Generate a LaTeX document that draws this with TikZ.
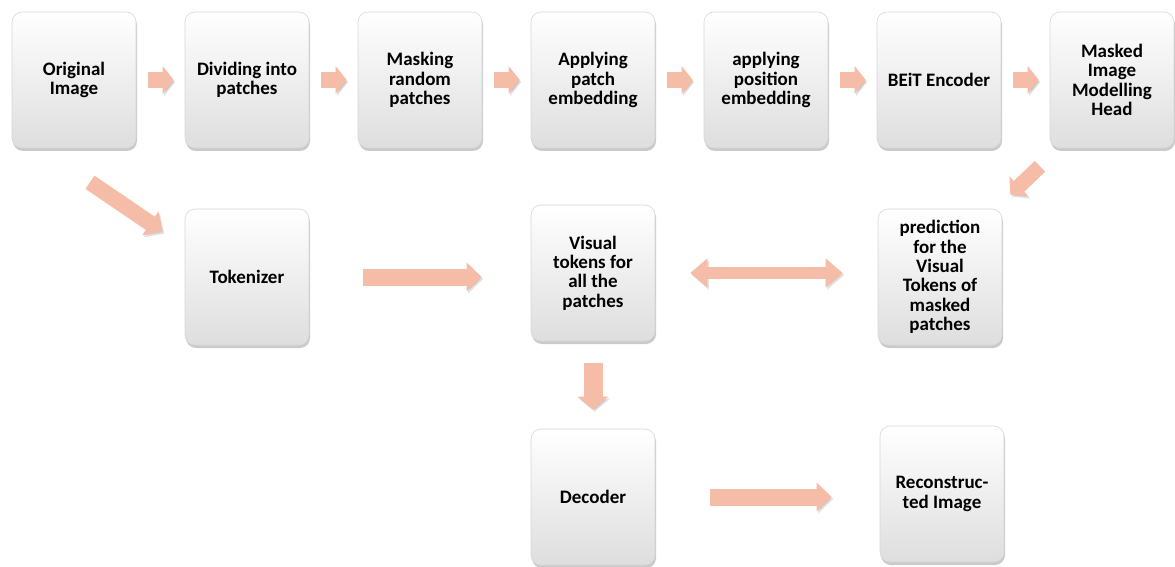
\documentclass[tikz,border=0pt]{standalone}
\usepackage{fontspec}
\setmainfont{Carlito}
\usetikzlibrary{arrows.meta,shadows,calc}
\definecolor{arrowc}{RGB}{245,188,168}
\definecolor{boxborder}{RGB}{215,215,215}
\tikzset{
  box/.style={rectangle, rounded corners=10pt, minimum width=124pt, minimum height=136pt,
    draw=boxborder, line width=0.6pt,
    top color=white, middle color=white, bottom color=black!13,
    drop shadow={shadow xshift=1pt, shadow yshift=-3pt, opacity=0.35, fill=black!60},
    align=center, inner sep=2pt,
    font=\fontsize{19}{19.3}\selectfont\bfseries},
  arrshadow/.style={preaction={draw=black, opacity=0.12, transform canvas={shift={(1.5pt,-2pt)}}}},
  smallarrow/.style={draw=arrowc, line width=16pt, arrshadow,
    -{Triangle[width=27pt,length=11pt]}},
  bigarrow/.style={draw=arrowc, line width=17pt, arrshadow,
    -{Triangle[width=28pt,length=15pt]}},
  dblarrow/.style={draw=arrowc, line width=12pt, arrshadow,
    {Triangle[width=28pt,length=17pt]}-{Triangle[width=28pt,length=17pt]}},
}
\begin{document}
\begin{tikzpicture}[x=1pt,y=-1pt]
\useasboundingbox (0,0) rectangle (1175,567);
% top row
\node[box] (orig)   at (74,80)   {Original\\Image};
\node[box] (divide) at (247,80)  {Dividing into\\patches};
\node[box] (mask)   at (420,80)  {Masking\\random\\patches};
\node[box] (patch)  at (593,80)  {Applying\\patch\\embedding};
\node[box] (pos)    at (766,80)  {applying\\position\\embedding};
\node[box] (beit)   at (939,80)  {BEiT Encoder};
\node[box] (head)   at (1112,80) {Masked\\Image\\Modelling\\Head};
% middle row
\node[box] (tok)  at (247,277) {Tokenizer};
\node[box] (vis)  at (593,273) {Visual\\tokens for\\all the\\patches};
\node[box] (pred) at (940,277) {prediction\\for the\\Visual\\Tokens of\\masked\\patches};
% bottom row
\node[box] (dec) at (593,497) {Decoder};
\node[box] (rec) at (942,494) {Reconstruc-\\ted Image};
% top row arrows
\foreach \a/\b in {orig/divide,divide/mask,mask/patch,patch/pos,pos/beit,beit/head}
  \draw[smallarrow, shorten <=12pt, shorten >=11pt] (\a.east) -- (\b.west);
% diagonal arrows
\coordinate (d1s) at ($(orig.south)+(16,34)$);
\coordinate (d1e) at ($(tok.north west)+(-22,23)$);
\draw[bigarrow, line width=16pt] (d1s) -- (d1e);
\coordinate (d2s) at ($(head.south)+(-72,18)$);
\coordinate (d2e) at ($(pred.north east)+(8,-14)$);
\draw[bigarrow, line width=15pt, -{Triangle[width=27pt,length=12pt]}] (d2s) -- (d2e);
% middle arrows
\draw[bigarrow, shorten <=54pt, shorten >=49pt] (tok.east) -- (tok.east -| vis.west);
\draw[dblarrow, shorten <=35pt, shorten >=35pt] (vis.east) -- (vis.east -| pred.west);
\draw[bigarrow, line width=19pt, -{Triangle[width=30pt,length=13pt]}, shorten <=22pt, shorten >=19pt] (vis.south) -- (dec.north);
\draw[bigarrow, shorten <=55pt, shorten >=48pt] (dec.east) -- (dec.east -| rec.west);
\end{tikzpicture}
\end{document}
